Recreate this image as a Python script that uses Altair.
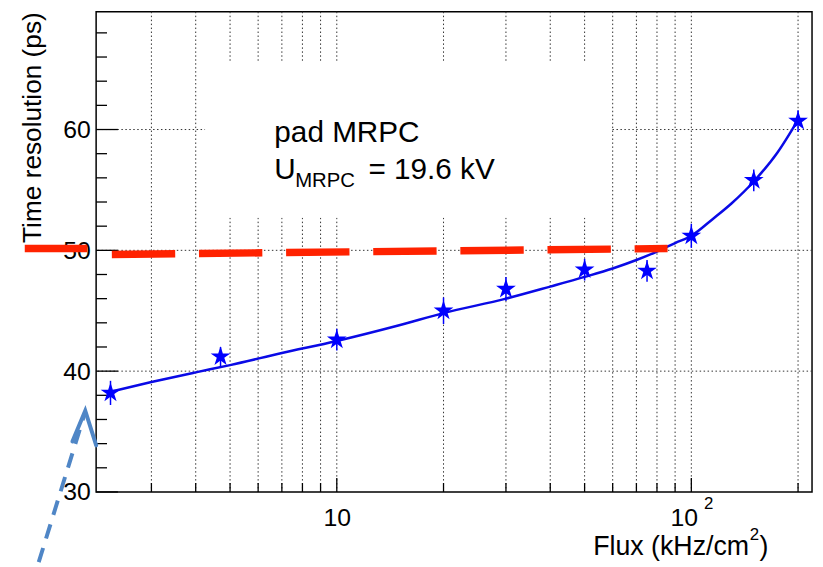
import altair as alt
import pandas as pd

# measured points
flux = [2.3, 4.7, 10, 20, 30, 50, 75, 100, 150, 200]
resolution = [38.2, 41.2, 42.6, 45.0, 46.8, 48.4, 48.3, 51.2, 55.8, 60.7]
res_err = [1.0, 0.8, 0.9, 1.1, 1.0, 0.9, 0.9, 1.0, 0.9, 0.9]

# fitted curve
fit_flux = [2.3, 3, 4, 5, 7, 10, 15, 20, 30, 40, 50, 60, 70, 80, 90, 100, 115, 130, 150, 175, 200]
fit_res = [38.3, 39.1, 39.9, 40.5, 41.5, 42.5, 43.8, 44.8, 46.0, 47.0, 47.8, 48.5, 49.2, 49.9,
           50.6, 51.2, 52.6, 53.9, 55.7, 58.1, 60.8]

# red 50 ps limit annotation
limit_flux = [2.32, 85.7]
limit_res = [49.66, 50.15]
stub_flux = [1.318, 1.977]
stub_res = [50.15, 50.15]

# blue dashed arrow annotation
arrow_flux = [1.443, 1.952]
arrow_res = [24.19, 36.63]
head_flux = [1.796, 1.952, 2.096]
head_res = [34.18, 36.72, 33.85]

# white label box
box_flux = [4.25, 59.4]
box_res = [52.69, 65.54]

grid_x = [3, 4, 5, 6, 7, 8, 9, 10, 20, 30, 40, 50, 60, 70, 80, 90, 100, 200]
grid_y = [40, 50, 60]
x_major = [10, 100]
x_minor = [3, 4, 5, 6, 7, 8, 9, 20, 30, 40, 50, 60, 70, 80, 90, 200]
y_major = [30, 40, 50, 60]
y_minor = [32, 34, 36, 38, 42, 44, 46, 48, 52, 54, 56, 58, 62, 64, 66, 68]

FONT = "Liberation Sans"
W, H = 723, 485

xs = alt.Scale(type="log", domain=[2.095, 219], nice=False)
ys = alt.Scale(domain=[30, 69.75], nice=False, zero=False)

xaxis = alt.Axis(
    values=[10, 100], labelExpr="datum.value == 10 ? '10' : ''",
    grid=False, ticks=False, tickSize=0, domain=False,
    labelFontSize=25, labelFont=FONT, labelColor="black",
    labelBaseline="alphabetic", labelPadding=34, title=None,
)
yaxis = alt.Axis(
    values=[30, 40, 50, 60], grid=False, ticks=False, tickSize=0, domain=False,
    labelFontSize=25, labelFont=FONT, labelColor="black", labelPadding=6,
    title="Time resolution (ps)", titleFont=FONT, titleFontSize=26.5, titleFontWeight="normal",
    titleColor="black", titleAngle=270, titleX=-56, titleY=0, titleAlign="right",
    titleBaseline="alphabetic",
)


def X(f):
    return alt.X(f, type="quantitative", scale=xs, axis=xaxis)


def Y(f):
    return alt.Y(f, type="quantitative", scale=ys, axis=yaxis)


pts = pd.DataFrame({"flux": flux, "res": resolution,
                    "lo": [r - e for r, e in zip(resolution, res_err)],
                    "hi": [r + e for r, e in zip(resolution, res_err)]})
fit = pd.DataFrame({"flux": fit_flux, "res": fit_res})

grid_dash = [1.5, 2.5]
gv = alt.Chart(pd.DataFrame({"flux": grid_x})).mark_rule(
    color="#333333", strokeWidth=1, strokeDash=grid_dash).encode(x=X("flux"))
gh = alt.Chart(pd.DataFrame({"res": grid_y})).mark_rule(
    color="#333333", strokeWidth=1, strokeDash=grid_dash).encode(y=Y("res"))

box = alt.Chart(pd.DataFrame({"x1": [box_flux[0]], "x2": [box_flux[1]],
                              "y1": [box_res[0]], "y2": [box_res[1]]})).mark_rect(
    color="white").encode(x=X("x1"), x2="x2", y=Y("y1"), y2="y2")

ymaj = alt.Chart(pd.DataFrame({"res": y_major})).mark_rule(color="black", strokeWidth=1.3).encode(
    y=Y("res"), x=alt.value(0), x2=alt.value(22))
ymin = alt.Chart(pd.DataFrame({"res": y_minor})).mark_rule(color="black", strokeWidth=1.3).encode(
    y=Y("res"), x=alt.value(0), x2=alt.value(11))
xmaj = alt.Chart(pd.DataFrame({"flux": x_major})).mark_rule(color="black", strokeWidth=1.3).encode(
    x=X("flux"), y=alt.value(H), y2=alt.value(H - 14))
xmin = alt.Chart(pd.DataFrame({"flux": x_minor})).mark_rule(color="black", strokeWidth=1.3).encode(
    x=X("flux"), y=alt.value(H), y2=alt.value(H - 9))

fit_line = alt.Chart(fit).mark_line(color="#0a0ae6", strokeWidth=2.5, interpolate="monotone").encode(
    x=X("flux"), y=Y("res"))

err = alt.Chart(pts).mark_rule(color="#0000ff", strokeWidth=1.5).encode(
    x=X("flux"), y=Y("lo"), y2="hi")

STAR = ("M0,-1 L0.2235,-0.3075 L0.951,-0.309 L0.3614,0.1174 L0.588,0.809 L0,0.38 "
        "L-0.588,0.809 L-0.3614,0.1174 L-0.951,-0.309 L-0.2235,-0.3075 Z")
stars = alt.Chart(pts).mark_point(shape=STAR, filled=True, size=440, color="#0000ff",
                                  opacity=1, strokeWidth=0).encode(x=X("flux"), y=Y("res"))

red = alt.Chart(pd.DataFrame({"flux": limit_flux, "res": limit_res})).mark_line(
    color="#ff2200", strokeWidth=7.5, strokeDash=[64, 24], strokeCap="butt", clip=False).encode(
    x=X("flux"), y=Y("res"))
red_stub = alt.Chart(pd.DataFrame({"flux": stub_flux, "res": stub_res})).mark_line(
    color="#ff2200", strokeWidth=7.5, strokeCap="butt", clip=False).encode(
    x=X("flux"), y=Y("res"))

arrow = alt.Chart(pd.DataFrame({"flux": arrow_flux, "res": arrow_res})).mark_line(
    color="#4f86c6", strokeWidth=4, strokeDash=[15, 10], strokeCap="butt", clip=False).encode(
    x=X("flux"), y=Y("res"))
head = alt.Chart(pd.DataFrame({"flux": head_flux, "res": head_res, "o": [0, 1, 2]})).mark_line(
    color="#4f86c6", strokeWidth=4, strokeCap="round", strokeJoin="miter", clip=False).encode(
    x=X("flux"), y=Y("res"), order="o:O")

one = pd.DataFrame({"a": [0]})


def label(txt, px, py, size, align="left"):
    return alt.Chart(one).mark_text(font=FONT, fontSize=size, color="black", align=align,
                                    baseline="alphabetic").encode(
        text=alt.value(txt), x=alt.value(px), y=alt.value(py))


# box text
t1 = label("pad MRPC", 180, 132, 30)
t2 = label("U", 180, 169, 30)
t3 = label("MRPC", 201, 177, 20.5)
t4 = label("= 19.6 kV", 275, 169, 30)

# 10^2 tick label with real superscript
e1 = label("10", 594, 519, 25, "center")
e2 = label("2", 614, 502, 17)

# x axis title with superscript
a1 = label("Flux (kHz/cm", 502, 549, 27)
a2 = label("2", 660, 534, 17)
a3 = label(")", 670, 549, 27)

chart = alt.layer(
    gv, gh, box, ymaj, ymin, xmaj, xmin, t1, t2, t3, t4, e1, e2, a1, a2, a3,
    fit_line, err, stars, red, red_stub, arrow, head
).properties(
    width=W, height=H,
    padding={"left": 89, "top": 1, "right": 3, "bottom": 71},
    autosize=alt.AutoSizeParams(type="none"),
    background="white",
).configure_view(stroke="black", strokeWidth=1.5)

chart.save("out.html", embed_options={"renderer": "svg", "actions": False})
